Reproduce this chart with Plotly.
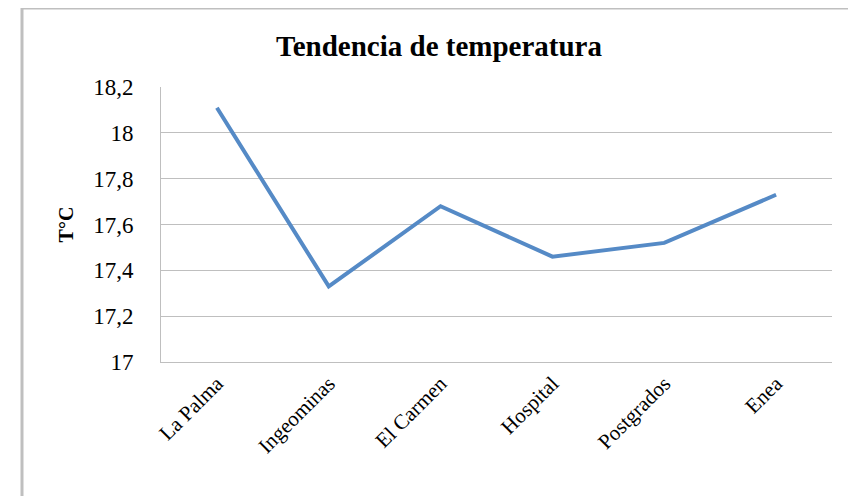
import plotly.graph_objects as go

categories = ["La Palma", "Ingeominas", "El Carmen", "Hospital", "Postgrados", "Enea"]
temperatures = [18.11, 17.33, 17.68, 17.46, 17.52, 17.73]
y_tickvals = [17, 17.2, 17.4, 17.6, 17.8, 18, 18.2]
y_ticktext = ["17", "17,2", "17,4", "17,6", "17,8", "18", "18,2"]

OFF = 8  # page body margin
W, H = 856 - OFF, 496 - OFF
# target pixel positions in the 856x496 window
PL, PR, PT, PB = 161, 832, 87, 362
L, R, T, B = PL - OFF, W - (PR - OFF), PT - OFF, H - (PB - OFF)
pw, ph = W - L - R, H - T - B

FONT = "Liberation Serif"
GRID = "#bfbfbf"

fig = go.Figure()
fig.add_trace(go.Scatter(
    x=categories, y=temperatures, mode="lines",
    line=dict(color="#558ac6", width=4),
    hoverinfo="x+y", showlegend=False,
))

def px(xw):
    return (xw - PL) / pw

def py(yw):
    return (PB - yw) / ph

fig.update_layout(
    width=W, height=H,
    margin=dict(l=L, r=R, t=T, b=B, autoexpand=False),
    paper_bgcolor="white", plot_bgcolor="white",
    title=dict(text="<b>Tendencia de temperatura</b>", x=(439 - OFF) / W, xanchor="center",
               y=1 - (46 - OFF) / H, yanchor="middle",
               font=dict(family=FONT, size=29, color="black")),
    xaxis=dict(type="category", tickangle=-45, showgrid=False, range=[-0.5, 5.5],
               showline=True, linecolor=GRID, linewidth=1, ticks="",
               automargin=False,
               tickfont=dict(family=FONT, size=21, color="black")),
    yaxis=dict(range=[17, 18.2005], tickvals=y_tickvals, ticktext=y_ticktext,
               showgrid=True, gridcolor=GRID, gridwidth=1, zeroline=False,
               showline=True, linecolor=GRID, linewidth=1, ticks="",
               ticklabelstandoff=22, automargin=False,
               tickfont=dict(family=FONT, size=23, color="black"),
               title=dict(text="<b>T°C</b>", standoff=14,
                          font=dict(family=FONT, size=20, color="black"))),
    shapes=[dict(type="rect", xref="paper", yref="paper",
                 x0=px(22), x1=px(853), y0=py(530), y1=py(8),
                 line=dict(color="#bfbfbf", width=3), fillcolor="rgba(0,0,0,0)", layer="below")],
)

fig.write_html("out.html")
